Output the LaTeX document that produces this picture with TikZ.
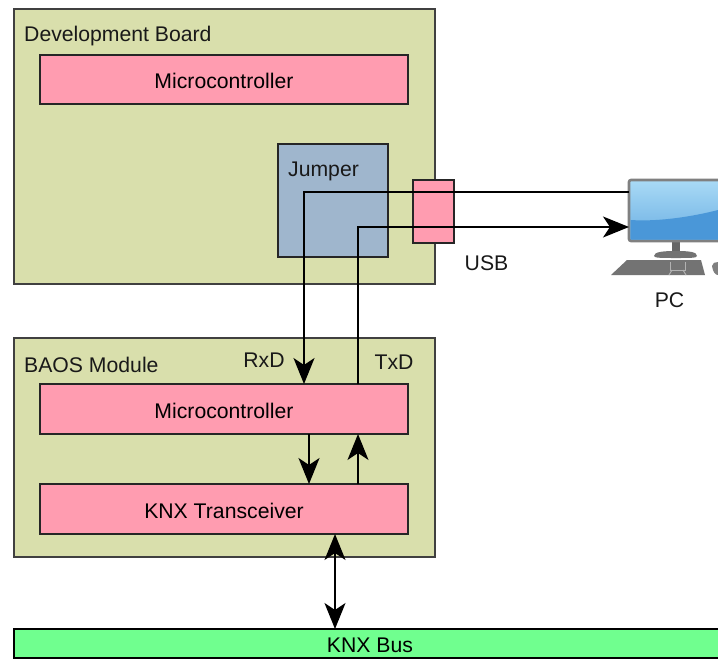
\documentclass[tikz,border=0pt]{standalone}
\usepackage{fontspec}
\setmainfont{Liberation Sans}
\usetikzlibrary{arrows.meta,calc}
\definecolor{olive}{HTML}{D9DFAC}
\definecolor{pinkbox}{HTML}{FF9CB0}
\definecolor{bluebox}{HTML}{9FB6CD}
\definecolor{busgreen}{HTML}{70FF8F}
\definecolor{screentop}{HTML}{A9DAF6}
\definecolor{screenmid}{HTML}{6AAEE2}
\definecolor{screenlow}{HTML}{4A97D8}
\newcommand{\lowtext}[1]{\raisebox{-1.8pt}[\height][\depth]{#1}}
\tikzset{
  x=1pt,y=-1pt,
  box/.style={draw=black!85,line width=1.6pt,inner sep=0pt,outer sep=0pt,anchor=north west,font=\fontsize{21.2}{25}\selectfont},
  board/.style={box,fill=olive,draw=black!75,line width=1.4pt},
  chip/.style={box,fill=pinkbox,line width=1.8pt},
  lbl/.style={inner sep=0pt,font=\fontsize{21.2}{25}\selectfont,text=black!90},
  conn/.style={draw=black,line width=1.7pt},
  heavy/.style={draw=black,line width=2.1pt},
  tip/.style={-{Stealth[length=26pt,width=21pt,inset=7pt]}},
  tipboth/.style={{Stealth[length=26pt,width=21pt,inset=7pt]}-{Stealth[length=26pt,width=21pt,inset=7pt]}},
}
\begin{document}
\begin{tikzpicture}
\useasboundingbox (0,0) rectangle (718,659);
\clip (0,0) rectangle (718,659);
% boards
\node[board,minimum width=421pt,minimum height=275pt] (dev) at (14,9) {};
\node[board,minimum width=421pt,minimum height=219pt] (baos) at (14,338) {};
\node[lbl,anchor=west] (devl) at (24,36) {Development Board};
\node[lbl,anchor=west] (baosl) at (24,365) {BAOS Module};
\node[chip,minimum width=368pt,minimum height=49pt] (mc1) at (40,55) {\lowtext{Microcontroller}};
\node[box,fill=bluebox,line width=1.8pt,minimum width=110pt,minimum height=113pt] (jump) at (278,144) {};
\node[lbl,anchor=west] (jumpl) at (288,171) {Jumper};
\node[chip,minimum width=41pt,minimum height=63pt] (usb) at (413,180) {};
\node[chip,minimum width=368pt,minimum height=50pt] (mc2) at (40,384) {\lowtext{Microcontroller}};
\node[chip,minimum width=368pt,minimum height=50pt] (knx) at (40,484) {\lowtext{KNX Transceiver}};
\node[box,fill=busgreen,draw=black,line width=1.4pt,minimum width=706pt,minimum height=29pt] (bus) at (14,629) {\hspace{6pt}\lowtext{KNX Bus}};
\node[lbl] (usbl) at (486.5,263) {USB};
\node[lbl] (pcl) at (669.5,300) {PC};
\node[lbl] (rxd) at (264,360) {RxD};
\node[lbl] (txd) at (394,362) {TxD};
% PC icon
\fill[black!55] (611,275) -- (627,260) -- (701,260) -- (705,275) -- cycle;
\draw[black!30,line width=1pt] (670,262) -- (670,270) -- (685,270) -- (685,262);
\draw[black!30,line width=1pt] (672,270) -- (669,275) (683,270) -- (686,275);
\fill[black!50] (712,266) .. controls (713,272) and (715,275) .. (718,275) -- (718,262) .. controls (715,262) and (712,263) .. (712,266) -- cycle;
\fill[black!60] (672,238) rectangle (680,254);
\fill[black!55] (654,256) .. controls (654,252) and (662,251) .. (676,251) .. controls (690,251) and (697,252) .. (697,256) .. controls (697,258) and (690,258) .. (676,258) .. controls (662,258) and (654,258) .. (654,256) -- cycle;
\node[draw=black!50,line width=2.6pt,rounded corners=2pt,inner sep=0pt,outer sep=0pt,anchor=north west,minimum width=120pt,minimum height=61pt,top color=screentop,bottom color=screenmid] (pc) at (629,180) {};
\fill[screenlow] (630.5,220) .. controls (660,222) and (695,216) .. (718,210) -- (718,239.5) -- (630.5,239.5) -- cycle;
% connectors
\coordinate (rxcorner) at (304,192);
\coordinate (txcorner) at (358,227);
\draw[heavy,tip] (pc.west |- rxcorner) -- (rxcorner) -- (rxcorner |- mc2.north);
\draw[conn,tip] (txcorner |- mc2.north) -- (txcorner) -- (pc.west |- txcorner);
\coordinate (d) at (309,434);
\coordinate (u) at (358,484);
\draw[heavy,tip] (d) -- (d |- knx.north);
\draw[conn,tip] (u) -- (u |- mc2.south);
\coordinate (b) at (335,534);
\draw[conn,tipboth] (b) -- (b |- bus.north);
\end{tikzpicture}
\end{document}
